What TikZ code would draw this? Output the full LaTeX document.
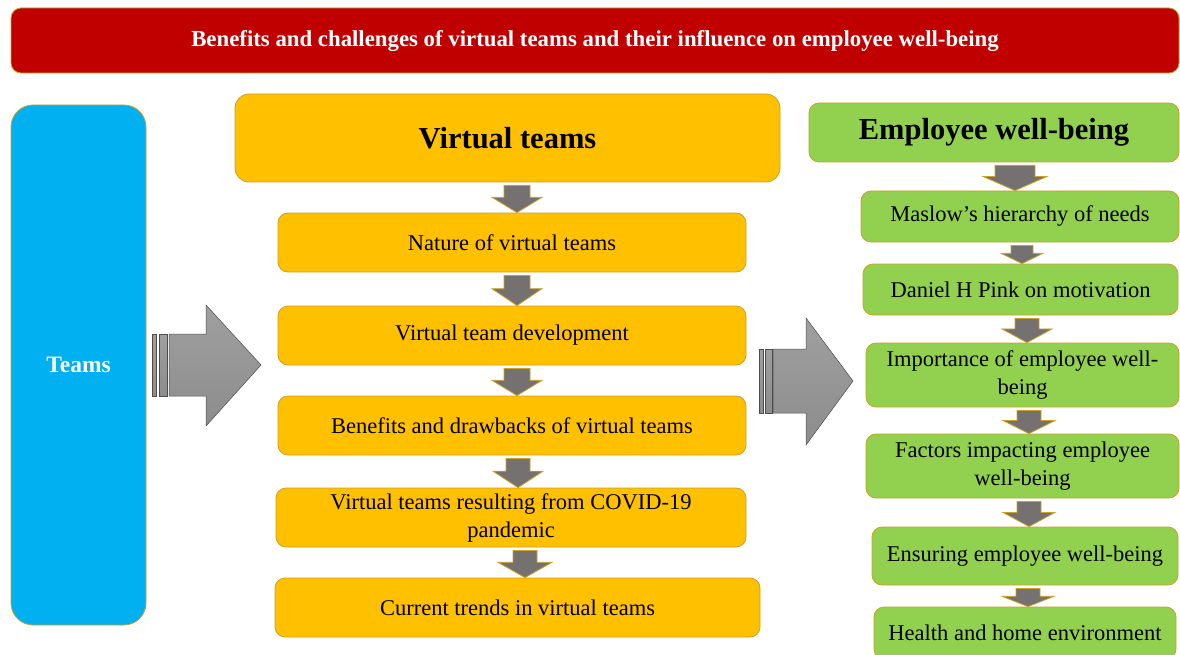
\documentclass[tikz,border=0pt]{standalone}
\usepackage{fontspec}
\setmainfont{Liberation Serif}
\usetikzlibrary{calc}
\definecolor{titlered}{HTML}{C00000}
\definecolor{teamblue}{HTML}{00B0F0}
\definecolor{vtyellow}{HTML}{FFC000}
\definecolor{ewgreen}{HTML}{92D050}
\definecolor{goldline}{HTML}{C9A227}
\definecolor{arrgray}{HTML}{767171}
\tikzset{
  basebox/.style={draw=goldline, line width=0.8pt, rounded corners=10pt, align=center, inner sep=2pt, text=black},
  ybox/.style={basebox, fill=vtyellow, font=\fontsize{22.5}{28}\selectfont},
  gbox/.style={basebox, fill=ewgreen, font=\fontsize{22.5}{28}\selectfont},
  smallarr/.style={fill=arrgray, draw=goldline, line width=0.8pt},
  bigarr/.style={top color=gray!75, bottom color=gray!110!black, draw=gray!60!black, line width=0.5pt},
}
% #1 from node, #2 to node, #3 x centre, #4 shaft half width, #5 head half width
\newcommand\dnarr[5]{%
  \path[smallarr] let \p1=(#1.south), \p2=(#2.north),
    \n1={\y1-3}, \n2={\y1+0.45*(\y2-\y1)-1.35}, \n3={\y2} in
    (#3-#4,\n1) -- (#3+#4,\n1) -- (#3+#4,\n2) -- (#3+#5,\n2) -- (#3,\n3)
    -- (#3-#5,\n2) -- (#3-#4,\n2) -- cycle;}
\begin{document}
\begin{tikzpicture}[x=1pt,y=1pt]
\useasboundingbox (0,0) rectangle (1180,-655);
% title
\node[basebox, fill=titlered, text=white, font=\bfseries\fontsize{22.8}{26}\selectfont,
  minimum width=1168pt, minimum height=65pt] (title) at (595,-40.5)
  {Benefits and challenges of virtual teams and their influence on employee well-being};
% teams
\node[basebox, fill=teamblue, text=white, rounded corners=22pt, font=\bfseries\fontsize{23.5}{26}\selectfont,
  minimum width=135pt, minimum height=520pt] (teams) at (78.5,-365) {Teams};
% virtual teams column
\node[basebox, fill=vtyellow, rounded corners=14pt, font=\bfseries\fontsize{30.5}{34}\selectfont,
  minimum width=545pt, minimum height=88pt] (vt) at (507.5,-138) {Virtual teams};
\node[ybox, minimum width=468pt, minimum height=59pt] (nat) at (512,-242.5) {Nature of virtual teams};
\node[ybox, minimum width=468pt, minimum height=59pt] (dev) at (512,-335.5) {Virtual team development};
\node[ybox, minimum width=468pt, minimum height=59pt] (ben) at (512,-425.5) {Benefits and drawbacks of virtual teams};
\node[ybox, minimum width=470pt, minimum height=59pt] (cov) at (511,-517.5) {Virtual teams resulting from COVID-19\\pandemic};
\node[ybox, minimum width=485pt, minimum height=59pt] (cur) at (517.5,-607.5) {Current trends in virtual teams};
% employee well-being column
\node[basebox, fill=ewgreen, font=\bfseries\fontsize{30.5}{34}\selectfont,
  minimum width=370pt, minimum height=59pt] (ew) at (994,-132.5) {Employee well-being};
\node[gbox, minimum width=318pt, minimum height=51pt] (mas) at (1020,-216.5) {Maslow’s hierarchy of needs};
\node[gbox, minimum width=315pt, minimum height=51pt] (pink) at (1020.5,-289.5) {Daniel H Pink on motivation};
\node[gbox, minimum width=313pt, minimum height=64pt] (imp) at (1022.5,-375) {Importance of employee well-\\being};
\node[gbox, minimum width=313pt, minimum height=64pt] (fac) at (1022.5,-466) {Factors impacting employee\\well-being};
\node[gbox, minimum width=306pt, minimum height=58pt] (ens) at (1025,-556) {Ensuring employee well-being};
\node[gbox, minimum width=302pt, minimum height=52pt] (hea) at (1025,-633) {Health and home environment};
% small arrows
\dnarr{vt}{nat}{517}{13}{25}
\dnarr{nat}{dev}{517}{13}{25}
\dnarr{dev}{ben}{517}{13}{25}
\dnarr{ben}{cov}{518}{12}{25}
\dnarr{cov}{cur}{525}{12}{27}
\dnarr{ew}{mas}{1015}{20}{32}
\dnarr{mas}{pink}{1022}{11}{21}
\dnarr{pink}{imp}{1027}{12}{25}
\dnarr{imp}{fac}{1029}{12}{26}
\dnarr{fac}{ens}{1029}{12}{26}
\dnarr{ens}{hea}{1028}{12}{26}
% big arrows
\path[bigarr] (152,-334) rectangle (156,-396);
\path[bigarr] (159,-334) rectangle (167,-396);
\path[bigarr] (169,-334) -- (206,-334) -- (206,-305) -- (261,-365) -- (206,-426) -- (206,-396) -- (169,-396) -- cycle;
\path[bigarr] (759,-349) rectangle (763,-413);
\path[bigarr] (765,-349) rectangle (772,-413);
\path[bigarr] (773,-349) -- (806,-349) -- (806,-318) -- (853,-381) -- (806,-445) -- (806,-413) -- (773,-413) -- cycle;
\end{tikzpicture}
\end{document}
